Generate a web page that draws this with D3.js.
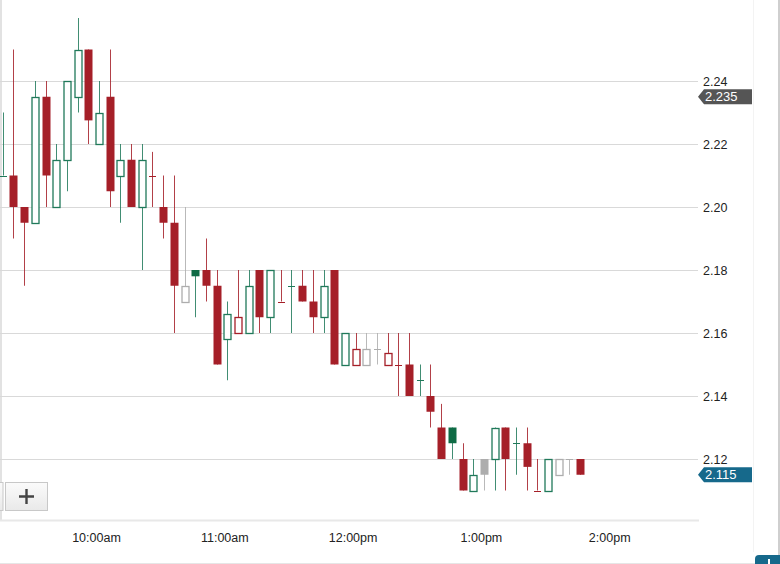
<!DOCTYPE html>
<html>
<head>
<meta charset="utf-8">
<script src="https://cdn.jsdelivr.net/npm/d3@7"></script>
<style>
  body { margin: 0; background: #fff; }
  svg { display: block; font-family: "Liberation Sans", Arial, sans-serif; }
</style>
</head>
<body>
<svg id="chart"></svg>
<script>
// 5-minute bars
const times = ["9:15","9:20","9:25","9:30","9:35","9:40","9:45","9:50","9:55","10:00",
  "10:05","10:10","10:15","10:20","10:25","10:30","10:35","10:40","10:45","10:50",
  "10:55","11:00","11:05","11:10","11:15","11:20","11:25","11:30","11:35","11:40",
  "11:45","11:50","11:55","12:00","12:05","12:10","12:15","12:20","12:25","12:30",
  "12:35","12:40","12:45","12:50","12:55","13:00","13:05","13:10","13:15","13:20",
  "13:25","13:30","13:35","13:40","13:45"];
const open = [2.21,2.21,2.20,2.195,2.235,2.20,2.215,2.235,2.25,2.22,
  2.235,2.21,2.215,2.20,2.21,2.20,2.195,2.17,2.18,2.18,
  2.175,2.158,2.16,2.16,2.18,2.165,2.17,2.175,2.175,2.17,
  2.165,2.18,2.15,2.15,2.15,2.155,2.15,2.15,2.15,2.145,
  2.14,2.13,2.13,2.12,2.11,2.12,2.12,2.13,2.125,2.125,
  2.11,2.11,2.115,2.12,2.12];
const high = [2.23,2.25,2.20,2.24,2.24,2.22,2.24,2.26,2.25,2.24,
  2.25,2.22,2.22,2.22,2.2175,2.21,2.21,2.20,2.18,2.19,
  2.18,2.17,2.18,2.18,2.18,2.18,2.18,2.18,2.18,2.18,
  2.18,2.18,2.16,2.16,2.16,2.16,2.16,2.16,2.16,2.15,
  2.15,2.1375,2.13,2.125,2.12,2.12,2.13,2.13,2.13,2.13,
  2.12,2.12,2.12,2.12,2.12];
const low = [2.21,2.19,2.175,2.195,2.20,2.20,2.205,2.23,2.22,2.22,
  2.20,2.195,2.20,2.18,2.20,2.19,2.16,2.17,2.165,2.17,
  2.15,2.145,2.16,2.16,2.16,2.16,2.17,2.16,2.17,2.16,
  2.16,2.15,2.15,2.15,2.15,2.15,2.15,2.14,2.14,2.14,
  2.13,2.12,2.12,2.11,2.11,2.11,2.11,2.11,2.115,2.11,
  2.11,2.11,2.115,2.115,2.115];
const close = [2.21,2.20,2.195,2.235,2.21,2.215,2.24,2.25,2.2275,2.23,
  2.205,2.215,2.20,2.215,2.21,2.195,2.175,2.175,2.178,2.175,
  2.15,2.166,2.165,2.175,2.165,2.18,2.17,2.175,2.17,2.165,
  2.175,2.15,2.16,2.155,2.155,2.155,2.1535,2.15,2.14,2.145,
  2.135,2.12,2.125,2.11,2.115,2.115,2.13,2.12,2.125,2.1175,
  2.11,2.12,2.12,2.12,2.115];
const priorClose = 2.205;

const yTicks = [2.12, 2.14, 2.16, 2.18, 2.20, 2.22, 2.24];
const xTicks = ["10:00", "11:00", "12:00", "13:00", "14:00"];
const highMark = 2.235;
const lastMark = 2.115;

const W = 780, H = 564;
const red = "#a51f28", green = "#20795a", gray = "#adadad";

const parse = d3.timeParse("%H:%M");
const svg = d3.select("#chart").attr("width", W).attr("height", H);

const x = d3.scaleTime()
  .domain([parse("10:00"), parse("14:00")])
  .range([99, 612.2]);
const y = d3.scaleLinear()
  .domain([2.10, 2.24])
  .range([522, 81]);

// frame bits
svg.append("rect").attr("x", 0).attr("y", 0).attr("width", 2).attr("height", 521).attr("fill", "#e2e2e2");
svg.append("line").attr("x1", 753.5).attr("x2", 753.5).attr("y1", 0).attr("y2", 552).attr("stroke", "#f3f3f3");
svg.append("line").attr("x1", 779).attr("x2", 779).attr("y1", 0).attr("y2", 564).attr("stroke", "#cfcfcf").attr("stroke-width", 2);
svg.append("line").attr("x1", 0).attr("x2", 760).attr("y1", 563.5).attr("y2", 563.5).attr("stroke", "#e6e6e6");

// grid
svg.append("g").selectAll("line")
  .data(yTicks)
  .join("line")
  .attr("x1", 0).attr("x2", 698)
  .attr("y1", d => Math.round(y(d)) + 0.5)
  .attr("y2", d => Math.round(y(d)) + 0.5)
  .attr("stroke", "#d9d9d9");

svg.append("line")
  .attr("x1", 0).attr("x2", 699)
  .attr("y1", 520.5).attr("y2", 520.5)
  .attr("stroke", "#e8e8e8").attr("stroke-width", 2);

// candles
const bars = times.map((t, i) => ({
  t: parse(t), o: open[i], h: high[i], l: low[i], c: close[i],
  prev: i === 0 ? priorClose : close[i - 1]
}));
const colorOf = d => d.c > d.prev ? green : d.c < d.prev ? red : gray;

const candle = svg.append("g").selectAll("g")
  .data(bars)
  .join("g")
  .attr("transform", d => `translate(${Math.round(x(d.t)) + 0.5},0)`);

candle.append("line")
  .attr("y1", d => y(d.h))
  .attr("y2", d => y(d.l))
  .attr("stroke", colorOf)
  .attr("stroke-opacity", 0.85);

candle.filter(d => d.o === d.c)
  .append("line")
  .attr("x1", -3.5).attr("x2", 3.5)
  .attr("y1", d => Math.round(y(d.c)) + 0.5)
  .attr("y2", d => Math.round(y(d.c)) + 0.5)
  .attr("stroke", colorOf);

// filled: close below open
candle.filter(d => d.c < d.o)
  .append("rect")
  .attr("x", -4)
  .attr("width", 8)
  .attr("y", d => y(d.o))
  .attr("height", d => y(d.c) - y(d.o))
  .attr("fill", d => colorOf(d) === green ? "#0e6b45" : colorOf(d));

// hollow: close above open
candle.filter(d => d.c > d.o)
  .append("rect")
  .attr("x", -3.5)
  .attr("width", 7)
  .attr("y", d => Math.round(y(d.c)) + 0.5)
  .attr("height", d => Math.round(y(d.o)) - Math.round(y(d.c)))
  .attr("fill", "#fff")
  .attr("stroke", colorOf)
  .attr("stroke-width", 1.3);

// y axis
const yAxis = svg.append("g")
  .attr("transform", "translate(700,0)")
  .call(d3.axisRight(y).tickValues(yTicks).tickSize(0).tickPadding(3).tickFormat(d3.format(".2f")));
yAxis.select(".domain").remove();
yAxis.selectAll("text").attr("font-size", 12.5).attr("fill", "#222").attr("font-family", "Liberation Sans, Arial, sans-serif");

// x axis
const xAxis = svg.append("g")
  .attr("transform", "translate(-3,530)")
  .call(d3.axisBottom(x).tickValues(xTicks.map(parse)).tickSize(0).tickPadding(3)
    .tickFormat(d => d3.timeFormat("%-I:%M%p")(d).toLowerCase()));
xAxis.select(".domain").remove();
xAxis.selectAll("text").attr("font-size", 12.5).attr("fill", "#222").attr("font-family", "Liberation Sans, Arial, sans-serif");

// price badges
function badge(val, fill) {
  const cy = y(val);
  const g = svg.append("g");
  g.append("path")
    .attr("d", `M698,${cy} L704,${cy - 7.5} L752,${cy - 7.5} L752,${cy + 7.5} L704,${cy + 7.5} Z`)
    .attr("fill", fill);
  g.append("text")
    .attr("x", 705).attr("y", cy + 4.5)
    .attr("font-size", 13).attr("fill", "#fff")
    .text(d3.format(".3f")(val));
}
badge(highMark, "#555555");
badge(lastMark, "#16698b");

// zoom button
const grad = svg.append("defs").append("linearGradient")
  .attr("id", "btn").attr("x1", 0).attr("x2", 0).attr("y1", 0).attr("y2", 1);
grad.append("stop").attr("offset", 0).attr("stop-color", "#fbfbfb");
grad.append("stop").attr("offset", 1).attr("stop-color", "#e9e9e9");
svg.append("rect").attr("x", -6).attr("y", 482.5).attr("width", 9).attr("height", 28)
  .attr("fill", "url(#btn)").attr("stroke", "#c8c8c8");
svg.append("rect").attr("x", 5.5).attr("y", 482.5).attr("width", 42).attr("height", 28)
  .attr("fill", "url(#btn)").attr("stroke", "#c8c8c8");
svg.append("path").attr("d", "M26.5,489 V504 M19,496.5 H34")
  .attr("stroke", "#444").attr("stroke-width", 2.4);

// corner button
svg.append("rect").attr("x", 755).attr("y", 555).attr("width", 30).attr("height", 18).attr("rx", 4)
  .attr("fill", "#16698b");
svg.append("rect").attr("x", 768).attr("y", 559).attr("width", 2).attr("height", 5).attr("fill", "#fff");
</script>
</body>
</html>
